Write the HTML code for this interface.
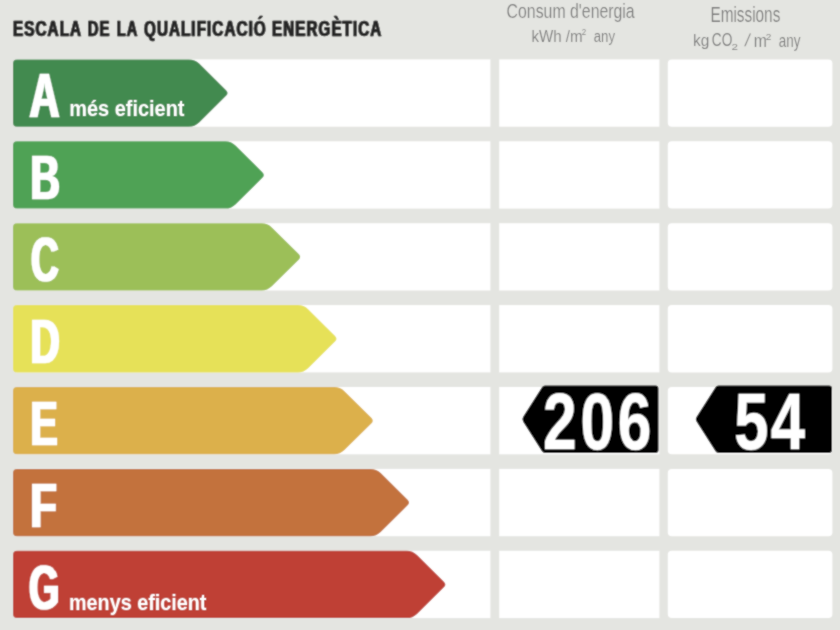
<!DOCTYPE html>
<html><head><meta charset="utf-8"><title>Escala de la qualificació energètica</title>
<style>html,body{margin:0;padding:0;background:#e4e5e1;}svg{display:block;will-change:transform;font-family:"Liberation Sans",sans-serif;}</style>
</head><body>
<svg width="840" height="630" viewBox="0 0 840 630">
<defs><filter id="hd0" x="-30%" y="-10%" width="160%" height="120%" primitiveUnits="userSpaceOnUse"><feMorphology operator="dilate" radius="1.498 0"/></filter><filter id="hd1" x="-30%" y="-10%" width="160%" height="120%" primitiveUnits="userSpaceOnUse"><feMorphology operator="dilate" radius="1.526 0"/></filter><filter id="hd2" x="-30%" y="-10%" width="160%" height="120%" primitiveUnits="userSpaceOnUse"><feMorphology operator="dilate" radius="1.622 0"/></filter><filter id="hd3" x="-30%" y="-10%" width="160%" height="120%" primitiveUnits="userSpaceOnUse"><feMorphology operator="dilate" radius="1.535 0"/></filter><filter id="hd4" x="-30%" y="-10%" width="160%" height="120%" primitiveUnits="userSpaceOnUse"><feMorphology operator="dilate" radius="1.527 0"/></filter><filter id="hd5" x="-30%" y="-10%" width="160%" height="120%" primitiveUnits="userSpaceOnUse"><feMorphology operator="dilate" radius="1.432 0"/></filter><filter id="hd6" x="-30%" y="-10%" width="160%" height="120%" primitiveUnits="userSpaceOnUse"><feMorphology operator="dilate" radius="1.592 0"/></filter><filter id="ho7" x="-30%" y="-10%" width="160%" height="120%" primitiveUnits="userSpaceOnUse"><feOffset in="SourceGraphic" dx="0.000" dy="0" result="o0"/><feOffset in="SourceGraphic" dx="1.488" dy="0" result="o1"/><feMerge><feMergeNode in="o0"/><feMergeNode in="o1"/></feMerge></filter><filter id="ho8" x="-30%" y="-10%" width="160%" height="120%" primitiveUnits="userSpaceOnUse"><feOffset in="SourceGraphic" dx="0.000" dy="0" result="o0"/><feOffset in="SourceGraphic" dx="1.534" dy="0" result="o1"/><feMerge><feMergeNode in="o0"/><feMergeNode in="o1"/></feMerge></filter><filter id="ho9" x="-30%" y="-10%" width="160%" height="120%" primitiveUnits="userSpaceOnUse"><feOffset in="SourceGraphic" dx="0.000" dy="0" result="o0"/><feOffset in="SourceGraphic" dx="1.554" dy="0" result="o1"/><feMerge><feMergeNode in="o0"/><feMergeNode in="o1"/></feMerge></filter><filter id="ho10" x="-30%" y="-10%" width="160%" height="120%" primitiveUnits="userSpaceOnUse"><feOffset in="SourceGraphic" dx="0.000" dy="0" result="o0"/><feOffset in="SourceGraphic" dx="1.489" dy="0" result="o1"/><feMerge><feMergeNode in="o0"/><feMergeNode in="o1"/></feMerge></filter><filter id="ho11" x="-30%" y="-10%" width="160%" height="120%" primitiveUnits="userSpaceOnUse"><feOffset in="SourceGraphic" dx="0.000" dy="0" result="o0"/><feOffset in="SourceGraphic" dx="1.493" dy="0" result="o1"/><feMerge><feMergeNode in="o0"/><feMergeNode in="o1"/></feMerge></filter><filter id="soft" x="0" y="0" width="840" height="630" filterUnits="userSpaceOnUse" primitiveUnits="userSpaceOnUse"><feConvolveMatrix order="3" kernelMatrix="1 2 1 2 12 2 1 2 1" divisor="24" edgeMode="duplicate"/></filter></defs>
<g filter="url(#soft)"><rect x="0" y="0" width="840" height="630" fill="#e4e5e1"/>
<rect x="16" y="59.40" width="474.4" height="67.3" fill="#fff"/>
<rect x="499.2" y="59.40" width="160.2" height="67.3" fill="#fff"/>
<rect x="667.8" y="59.40" width="164.6" height="67.3" rx="4" fill="#fff"/>
<path d="M17.00,59.40 L189.00,59.40 Q195.00,59.40 199.26,63.62 L226.16,90.24 Q229.00,93.05 226.16,95.86 L199.26,122.48 Q195.00,126.70 189.00,126.70 L17.00,126.70 Q13.00,126.70 13.00,122.70 L13.00,63.40 Q13.00,59.40 17.00,59.40 Z" fill="#428a4f"/>
<rect x="16" y="141.30" width="474.4" height="67.3" fill="#fff"/>
<rect x="499.2" y="141.30" width="160.2" height="67.3" fill="#fff"/>
<rect x="667.8" y="141.30" width="164.6" height="67.3" rx="4" fill="#fff"/>
<path d="M17.00,141.30 L225.30,141.30 Q231.30,141.30 235.56,145.52 L262.46,172.14 Q265.30,174.95 262.46,177.76 L235.56,204.38 Q231.30,208.60 225.30,208.60 L17.00,208.60 Q13.00,208.60 13.00,204.60 L13.00,145.30 Q13.00,141.30 17.00,141.30 Z" fill="#4fa255"/>
<rect x="16" y="223.20" width="474.4" height="67.3" fill="#fff"/>
<rect x="499.2" y="223.20" width="160.2" height="67.3" fill="#fff"/>
<rect x="667.8" y="223.20" width="164.6" height="67.3" rx="4" fill="#fff"/>
<path d="M17.00,223.20 L261.60,223.20 Q267.60,223.20 271.86,227.42 L298.76,254.04 Q301.60,256.85 298.76,259.66 L271.86,286.28 Q267.60,290.50 261.60,290.50 L17.00,290.50 Q13.00,290.50 13.00,286.50 L13.00,227.20 Q13.00,223.20 17.00,223.20 Z" fill="#9cbf58"/>
<rect x="16" y="305.10" width="474.4" height="67.3" fill="#fff"/>
<rect x="499.2" y="305.10" width="160.2" height="67.3" fill="#fff"/>
<rect x="667.8" y="305.10" width="164.6" height="67.3" rx="4" fill="#fff"/>
<path d="M17.00,305.10 L297.90,305.10 Q303.90,305.10 308.16,309.32 L335.06,335.94 Q337.90,338.75 335.06,341.56 L308.16,368.18 Q303.90,372.40 297.90,372.40 L17.00,372.40 Q13.00,372.40 13.00,368.40 L13.00,309.10 Q13.00,305.10 17.00,305.10 Z" fill="#e6e159"/>
<rect x="16" y="387.00" width="474.4" height="67.3" fill="#fff"/>
<rect x="499.2" y="387.00" width="160.2" height="67.3" fill="#fff"/>
<rect x="667.8" y="387.00" width="164.6" height="67.3" rx="4" fill="#fff"/>
<path d="M17.00,387.00 L334.20,387.00 Q340.20,387.00 344.46,391.22 L371.36,417.84 Q374.20,420.65 371.36,423.46 L344.46,450.08 Q340.20,454.30 334.20,454.30 L17.00,454.30 Q13.00,454.30 13.00,450.30 L13.00,391.00 Q13.00,387.00 17.00,387.00 Z" fill="#dcb04b"/>
<rect x="16" y="468.90" width="474.4" height="67.3" fill="#fff"/>
<rect x="499.2" y="468.90" width="160.2" height="67.3" fill="#fff"/>
<rect x="667.8" y="468.90" width="164.6" height="67.3" rx="4" fill="#fff"/>
<path d="M17.00,468.90 L370.50,468.90 Q376.50,468.90 380.76,473.12 L407.66,499.74 Q410.50,502.55 407.66,505.36 L380.76,531.98 Q376.50,536.20 370.50,536.20 L17.00,536.20 Q13.00,536.20 13.00,532.20 L13.00,472.90 Q13.00,468.90 17.00,468.90 Z" fill="#c3723d"/>
<rect x="16" y="550.80" width="474.4" height="67.3" fill="#fff"/>
<rect x="499.2" y="550.80" width="160.2" height="67.3" fill="#fff"/>
<rect x="667.8" y="550.80" width="164.6" height="67.3" rx="4" fill="#fff"/>
<path d="M17.00,550.80 L406.80,550.80 Q412.80,550.80 417.06,555.02 L443.96,581.64 Q446.80,584.45 443.96,587.26 L417.06,613.88 Q412.80,618.10 406.80,618.10 L17.00,618.10 Q13.00,618.10 13.00,614.10 L13.00,554.80 Q13.00,550.80 17.00,550.80 Z" fill="#bf4135"/>
<text transform="translate(29.568,117.450) scale(0.6676,1)" font-size="62.065" font-weight="bold" fill="#fff" stroke="#fff" stroke-width="0.300" stroke-linejoin="round" paint-order="stroke" filter="url(#hd0)">A</text>
<text transform="translate(30.378,199.350) scale(0.6553,1)" font-size="62.065" font-weight="bold" fill="#fff" stroke="#fff" stroke-width="0.300" stroke-linejoin="round" paint-order="stroke" filter="url(#hd1)">B</text>
<text transform="translate(30.923,281.250) scale(0.6165,1)" font-size="62.065" font-weight="bold" fill="#fff" stroke="#fff" stroke-width="0.300" stroke-linejoin="round" paint-order="stroke" filter="url(#hd2)">C</text>
<text transform="translate(30.392,363.150) scale(0.6517,1)" font-size="62.065" font-weight="bold" fill="#fff" stroke="#fff" stroke-width="0.300" stroke-linejoin="round" paint-order="stroke" filter="url(#hd3)">D</text>
<text transform="translate(30.379,445.050) scale(0.6549,1)" font-size="62.065" font-weight="bold" fill="#fff" stroke="#fff" stroke-width="0.300" stroke-linejoin="round" paint-order="stroke" filter="url(#hd4)">E</text>
<text transform="translate(30.205,526.950) scale(0.6984,1)" font-size="62.065" font-weight="bold" fill="#fff" stroke="#fff" stroke-width="0.300" stroke-linejoin="round" paint-order="stroke" filter="url(#hd5)">F</text>
<text transform="translate(28.995,608.850) scale(0.6282,1)" font-size="62.065" font-weight="bold" fill="#fff" stroke="#fff" stroke-width="0.300" stroke-linejoin="round" paint-order="stroke" filter="url(#hd6)">G</text>
<text transform="translate(69.184,116.300) scale(0.8872,1)" font-size="22.495" font-weight="bold" fill="#fff">més eficient</text>
<text transform="translate(68.996,609.800) scale(0.8741,1)" font-size="22.633" font-weight="bold" fill="#fff">menys eficient</text>
<text transform="translate(12.582,35.800) scale(0.6720,1)" font-size="22.675" font-weight="bold" fill="#282828" stroke="#282828" stroke-width="0.600" stroke-linejoin="round" paint-order="stroke" filter="url(#ho7)" letter-spacing="1.600">ESCALA</text>
<text transform="translate(87.207,35.800) scale(0.6518,1)" font-size="22.675" font-weight="bold" fill="#282828" stroke="#282828" stroke-width="0.600" stroke-linejoin="round" paint-order="stroke" filter="url(#ho8)" letter-spacing="1.600">DE</text>
<text transform="translate(116.317,35.800) scale(0.6433,1)" font-size="22.675" font-weight="bold" fill="#282828" stroke="#282828" stroke-width="0.600" stroke-linejoin="round" paint-order="stroke" filter="url(#ho9)" letter-spacing="1.600">LA</text>
<text transform="translate(143.477,35.800) scale(0.6714,1)" font-size="22.675" font-weight="bold" fill="#282828" stroke="#282828" stroke-width="0.600" stroke-linejoin="round" paint-order="stroke" filter="url(#ho10)" letter-spacing="1.600">QUALIFICACIÓ</text>
<text transform="translate(271.585,35.800) scale(0.6698,1)" font-size="22.675" font-weight="bold" fill="#282828" stroke="#282828" stroke-width="0.600" stroke-linejoin="round" paint-order="stroke" filter="url(#ho11)" letter-spacing="1.600">ENERGÈTICA</text>
<text transform="translate(506.595,18.000) scale(0.7743,1)" font-size="20.480" font-weight="normal" fill="#747474" stroke="#e4e5e1" stroke-width="0.200">Consum d'energia</text>
<text transform="translate(710.441,22.000) scale(0.7132,1)" font-size="21.512" font-weight="normal" fill="#747474" stroke="#e4e5e1" stroke-width="0.200">Emissions</text>
<text transform="translate(531.380,42.100) scale(0.9542,1)" font-size="15.871" font-weight="normal" fill="#747474" stroke="#e4e5e1" stroke-width="0.150">kWh /m</text>
<text transform="translate(581.803,35.000) scale(0.9045,1)" font-size="8.736" font-weight="normal" fill="#747474" stroke="#e4e5e1" stroke-width="0.100">2</text>
<text transform="translate(593.739,42.100) scale(0.7926,1)" font-size="16.657" font-weight="normal" fill="#747474" stroke="#e4e5e1" stroke-width="0.150">any</text>
<text transform="translate(692.958,46.400) scale(0.8968,1)" font-size="17.251" font-weight="normal" fill="#747474" stroke="#e4e5e1" stroke-width="0.150">kg</text>
<text transform="translate(711.804,46.400) scale(0.7541,1)" font-size="18.169" font-weight="normal" fill="#747474" stroke="#e4e5e1" stroke-width="0.150">CO</text>
<text transform="translate(731.615,49.500) scale(1.2497,1)" font-size="9.309" font-weight="normal" fill="#747474" stroke="#e4e5e1" stroke-width="0.100">2</text>
<text transform="translate(744.3,46.45) skewX(-10) scale(0.95,1)" font-size="17.3" fill="#747474" stroke="#e4e5e1" stroke-width="0.2">/</text>
<text transform="translate(753.748,46.700) scale(0.8718,1)" font-size="18.171" font-weight="normal" fill="#747474" stroke="#e4e5e1" stroke-width="0.150">m</text>
<text transform="translate(765.692,39.800) scale(1.0218,1)" font-size="9.882" font-weight="normal" fill="#747474" stroke="#e4e5e1" stroke-width="0.100">2</text>
<text transform="translate(778.828,46.700) scale(0.7406,1)" font-size="18.171" font-weight="normal" fill="#747474" stroke="#e4e5e1" stroke-width="0.150">any</text>
<path d="M545.00,385.50 L655.50,385.50 Q658.50,385.50 658.50,388.50 L658.50,450.00 Q658.50,453.00 655.50,453.00 L545.00,453.00 Q543.00,453.00 541.93,451.31 L523.11,421.78 Q521.50,419.25 523.11,416.72 L541.93,387.19 Q543.00,385.50 545.00,385.50 Z" fill="#000"/>
<path d="M718.50,385.50 L829.00,385.50 Q832.00,385.50 832.00,388.50 L832.00,450.00 Q832.00,453.00 829.00,453.00 L718.50,453.00 Q716.50,453.00 715.43,451.31 L696.61,421.78 Q695.00,419.25 696.61,416.72 L715.43,387.19 Q716.50,385.50 718.50,385.50 Z" fill="#000"/>
<text transform="translate(543.095,449.250) scale(0.7602,1)" font-size="79.507" font-weight="bold" fill="#fff" stroke="#fff" stroke-width="0.500" stroke-linejoin="round" paint-order="stroke" letter-spacing="4.900">206</text>
<text transform="translate(734.297,449.250) scale(0.7707,1)" font-size="79.943" font-weight="bold" fill="#fff" stroke="#fff" stroke-width="0.500" stroke-linejoin="round" paint-order="stroke" letter-spacing="3.000">54</text></g>
</svg>
</body></html>
